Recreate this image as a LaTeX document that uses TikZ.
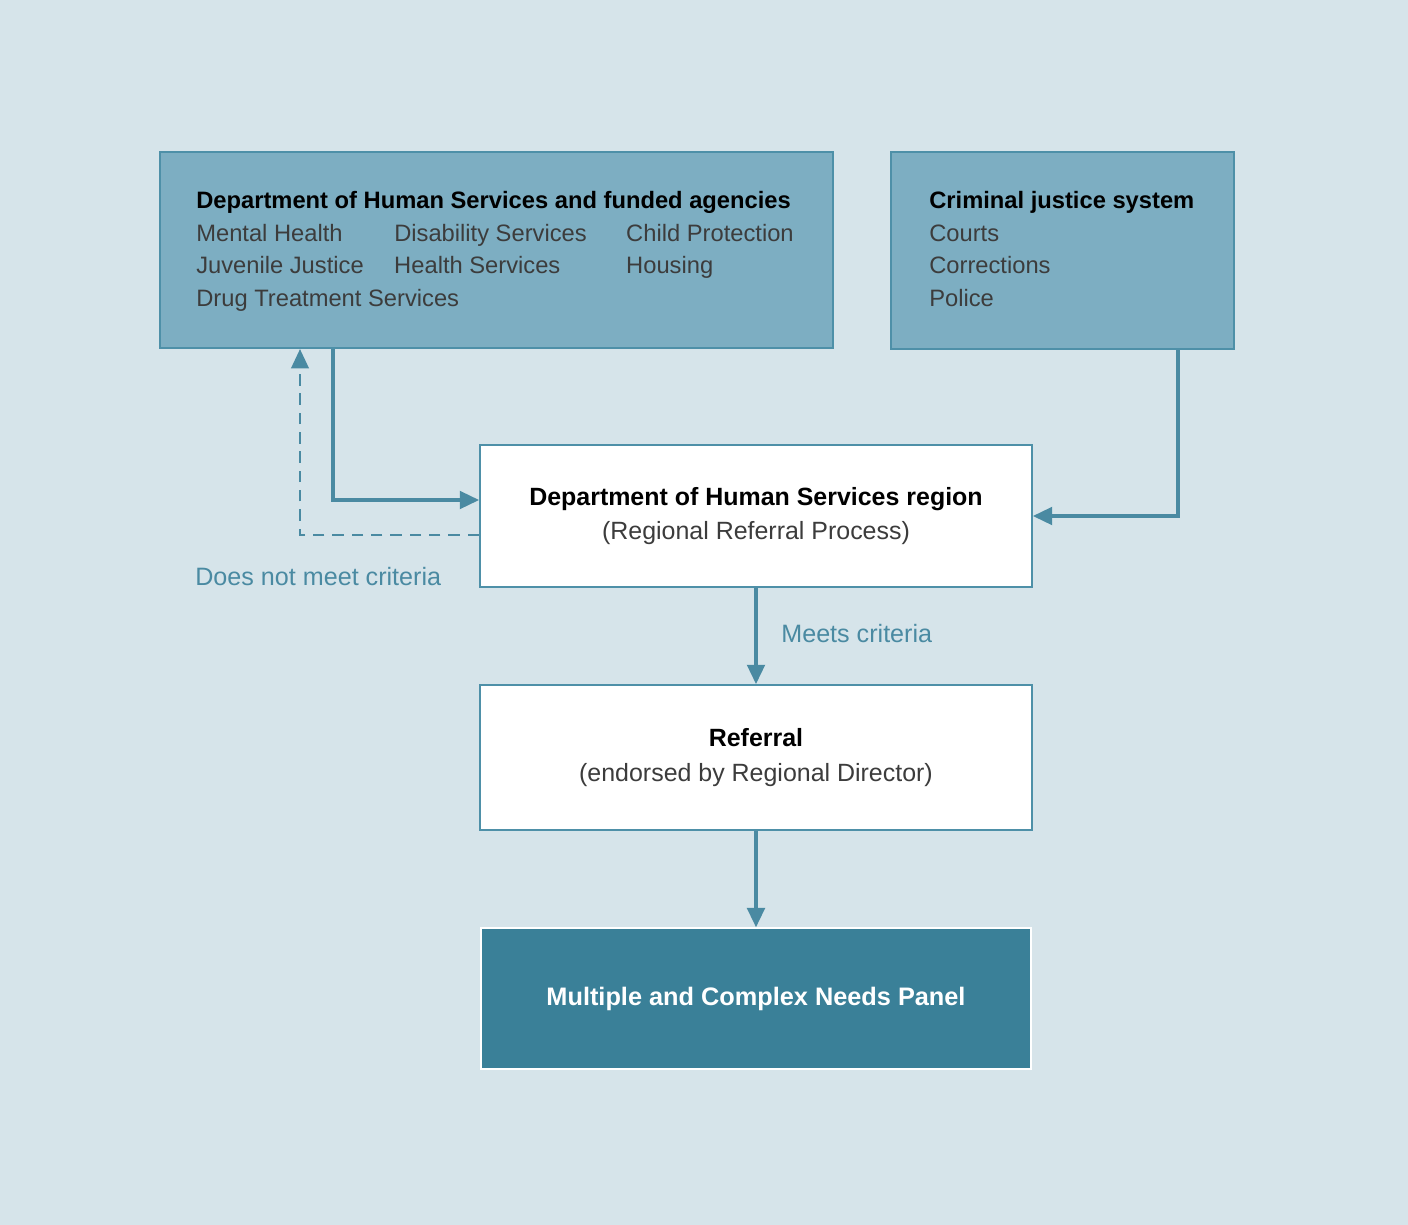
\documentclass[tikz,border=0pt]{standalone}
\usepackage{fontspec}
\setmainfont{Liberation Sans}
\usepackage{xcolor}
\usetikzlibrary{arrows.meta}

\definecolor{bgblue}{RGB}{214,228,234}
\definecolor{midblue}{RGB}{125,174,194}
\definecolor{edgeblue}{RGB}{78,144,168}
\definecolor{darkteal}{RGB}{58,128,152}
\definecolor{linkblue}{RGB}{74,138,162}
\definecolor{itemgray}{RGB}{60,60,60}

% fixed-width column for the agency list
\newcommand{\agencycol}[2]{\makebox[#1][l]{#2}}

\tikzset{
	topbox/.style={draw=edgeblue, line width=1.2pt, fill=midblue, inner sep=0},
	listtext/.style={anchor=north west, inner sep=0, align=left, font=\fontsize{13.5}{18.6}\selectfont},
	flowbox/.style={draw=edgeblue, line width=1pt, fill=white, minimum width=11.04cm, align=center, font=\fontsize{14.2}{19.8}\selectfont},
	panelbox/.style={draw=white, line width=0.8pt, fill=darkteal, minimum width=11cm, minimum height=2.82cm, text=white, font=\bfseries\fontsize{14.4}{16}\selectfont},
	link/.style={draw=linkblue, line width=1.9pt, -{Triangle[length=11pt,width=10pt]}},
	dashlink/.style={link, line width=1.3pt, dash pattern=on 6.5pt off 4.5pt},
	cond/.style={text=linkblue, inner sep=0, anchor=west, font=\fontsize{14.3}{16}\selectfont}
}

\begin{document}
\begin{tikzpicture}
			\fill[bgblue] (0,0) rectangle (28.16,-24.5);
			\useasboundingbox (0,0) rectangle (28.16,-24.5);

			\node[topbox, minimum width=13.46cm, minimum height=3.92cm] (dhs) at (9.93,-5.0) {};
			\node[topbox, minimum width=6.86cm, minimum height=3.94cm] (cjs) at (21.25,-5.01) {};

			\node[listtext] (dhslist) at ([xshift=0.74cm,yshift=-0.8cm]dhs.north west)
			{
				\textbf{Department of Human Services and funded agencies}\\
				\color{itemgray}\agencycol{3.96cm}{Mental Health}\agencycol{4.64cm}{Disability Services}Child Protection\\
				\color{itemgray}\agencycol{3.96cm}{Juvenile Justice}\agencycol{4.64cm}{Health Services}Housing\\
				\color{itemgray}Drug Treatment Services
			};
			\node[listtext] (cjslist) at ([xshift=0.78cm,yshift=-0.8cm]cjs.north west)
			{
				\textbf{Criminal justice system}\\
				\color{itemgray}Courts\\
				\color{itemgray}Corrections\\
				\color{itemgray}Police
			};

			\node[flowbox, minimum height=2.84cm] (region) at (15.12,-10.32)
			{\textbf{Department of Human Services region}\\ \color{itemgray}(Regional Referral Process)};
			\node[flowbox, minimum height=2.9cm] (referral) at (15.12,-15.15)
			{\textbf{Referral}\\ \color{itemgray}(endorsed by Regional Director)};
			\node[panelbox] (panel) at (15.12,-19.97) {Multiple and Complex Needs Panel};

			\draw[link] ([xshift=-3.27cm]dhs.south) |- ([yshift=0.32cm]region.west);
			\draw[dashlink] ([yshift=-0.38cm]region.west) -| ([xshift=-3.93cm]dhs.south);
			\draw[link] ([xshift=2.31cm]cjs.south) |- (region.east);
			\draw[link] (region.south) -- (referral.north);
			\draw[link] (referral.south) -- (panel.north);

			\node[cond] (nomeet) at (3.9,-11.54) {Does not meet criteria};
			\node[cond] (meet) at (15.62,-12.68) {Meets criteria};
		\end{tikzpicture}
\end{document}
